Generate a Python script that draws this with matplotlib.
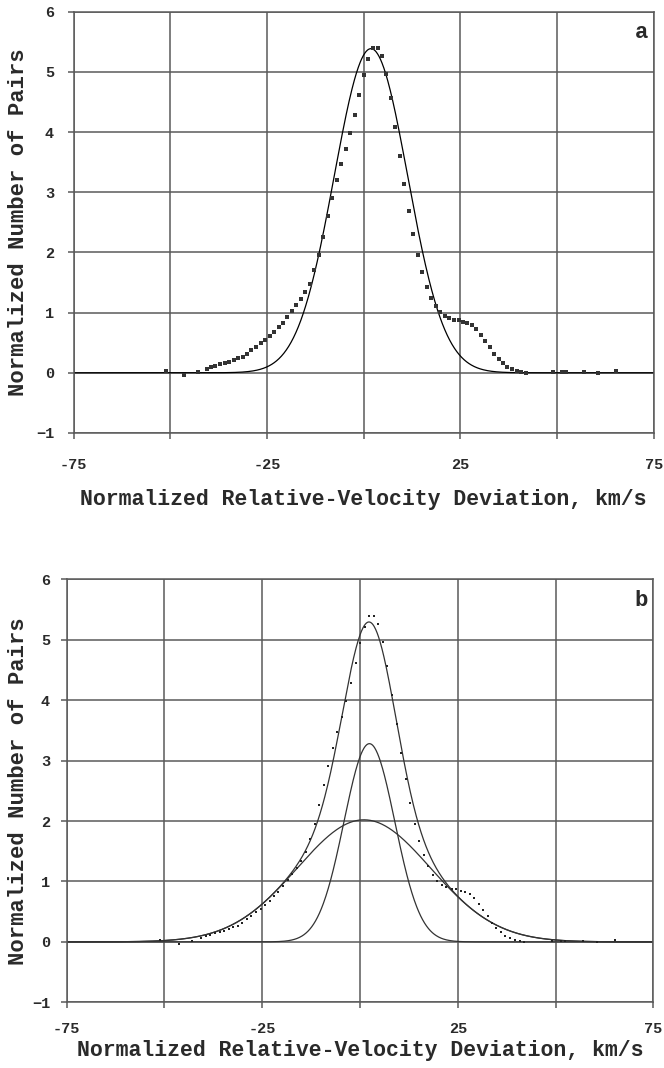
import numpy as np
import matplotlib
matplotlib.use("Agg")
import matplotlib.pyplot as plt

# measured points (same data in both panels)
vel = [-51.1, -46.4, -42.9, -40.6, -39.4, -38.3, -37.1, -35.9, -34.8, -33.6,
       -32.4, -31.3, -30.1, -29.0, -27.8, -26.6, -25.4, -24.3, -23.1, -22.0,
       -20.9, -19.7, -18.5, -17.4, -16.2, -15.1, -13.9, -12.8, -11.6, -10.4,
       -9.3, -8.2, -7.0, -5.8, -4.6, -3.5, -2.3, -1.1, 0.1, 1.2,
       2.4, 3.6, 4.7, 5.9, 7.0, 8.2, 9.4, 10.5, 11.7, 12.8,
       14.0, 15.2, 16.3, 17.5, 18.7, 19.8, 21.0, 22.1, 23.4, 24.6,
       25.7, 26.8, 28.0, 29.1, 30.3, 31.4, 32.7, 33.8, 34.9, 36.1,
       37.2, 38.4, 39.6, 40.8, 41.9, 49.0, 51.3, 52.4, 57.0, 60.5, 65.2]
pairs = [0.03, -0.03, 0.02, 0.07, 0.10, 0.12, 0.14, 0.16, 0.18, 0.21,
         0.24, 0.27, 0.32, 0.38, 0.43, 0.49, 0.55, 0.61, 0.67, 0.755,
         0.83, 0.93, 1.03, 1.12, 1.23, 1.34, 1.48, 1.70, 1.95, 2.26,
         2.60, 2.91, 3.20, 3.47, 3.72, 3.99, 4.29, 4.62, 4.95, 5.21,
         5.39, 5.40, 5.26, 4.96, 4.56, 4.09, 3.60, 3.13, 2.69, 2.30,
         1.95, 1.67, 1.43, 1.25, 1.11, 1.01, 0.945, 0.905, 0.88, 0.87,
         0.85, 0.82, 0.79, 0.725, 0.63, 0.53, 0.43, 0.32, 0.23, 0.16,
         0.10, 0.06, 0.03, 0.01, 0.0, 0.01, 0.01, 0.01, 0.02, -0.01, 0.03]

# gaussian fits: amplitude, centre, sigma
fit_a = [5.385, 1.9, 9.5]
fit_b_narrow = [3.28, 2.4, 6.5]
fit_b_wide = [2.02, 1.0, 17.0]

xticks = [-75, -50, -25, 0, 25, 50, 75]
xticklabels = ["-75", "", "-25", "", "25", "", "75"]
yticks = [-1, 0, 1, 2, 3, 4, 5, 6]


def gauss(x, p):
    return p[0] * np.exp(-0.5 * ((x - p[1]) / p[2]) ** 2)


FONT = "Liberation Mono"
TXT = "#2a2a2a"
GRID = "#5a5a5a"

plt.rcParams["font.family"] = FONT
plt.rcParams["font.weight"] = "bold"

fig = plt.figure(figsize=(6.64, 10.68), dpi=100)
ax_a = fig.add_axes([0.1107, 0.5946, 0.8738, 0.3945])
ax_b = fig.add_axes([0.1005, 0.0615, 0.8834, 0.3961])


def setup(ax, letter, xpad, ylpad, titlepad, ylab_x):
    ax.set_xlim(-75, 75)
    ax.set_ylim(-1, 6)
    ax.set_xticks(xticks)
    ax.set_xticklabels(xticklabels)
    ax.set_yticks(yticks)
    ax.grid(True, color=GRID, linewidth=1.1)
    ax.set_axisbelow(True)
    for s in ax.spines.values():
        s.set_color(GRID)
        s.set_linewidth(1.1)
    ax.tick_params(axis="x", direction="out", length=4, width=1.1, color=GRID,
                   labelsize=11, labelcolor=TXT, pad=xpad)
    ax.tick_params(axis="y", direction="out", length=4, width=1.1, color=GRID,
                   labelsize=11, labelcolor=TXT, pad=ylpad)
    for lab in ax.get_xticklabels() + ax.get_yticklabels():
        lab.set_fontweight("bold")
    ax.set_ylabel("Normalized Number of Pairs", fontsize=16, fontweight="bold",
                  color=TXT)
    ax.yaxis.set_label_coords(ylab_x, 0.5)
    ax.set_xlabel("Normalized Relative-Velocity Deviation, km/s", fontsize=15.5,
                  fontweight="bold", color=TXT, labelpad=titlepad)
    ax.text(0.99, 0.975, letter, transform=ax.transAxes, ha="right", va="top",
            fontsize=16, fontweight="bold", color=TXT)


xs = np.linspace(-75, 75, 1201)

# panel a
setup(ax_a, "a", 14, 10, 12, -0.077)
ax_a.plot(xs, gauss(xs, fit_a), color="black", linewidth=0.9)
ax_a.scatter(vel, pairs, s=6.5, marker="s", color="#333333", linewidths=0, zorder=3)

# panel b
setup(ax_b, "b", 10, 8, 3, -0.064)
ax_b.plot(xs, gauss(xs, fit_b_narrow), color="#333333", linewidth=0.9)
ax_b.plot(xs, gauss(xs, fit_b_wide), color="#333333", linewidth=0.9)
ax_b.plot(xs, gauss(xs, fit_b_narrow) + gauss(xs, fit_b_wide), color="#333333", linewidth=0.9)
ax_b.scatter(vel, pairs, s=2.5, marker="s", color="#222222", linewidths=0, zorder=3)

fig.savefig("out.png", dpi=100)
